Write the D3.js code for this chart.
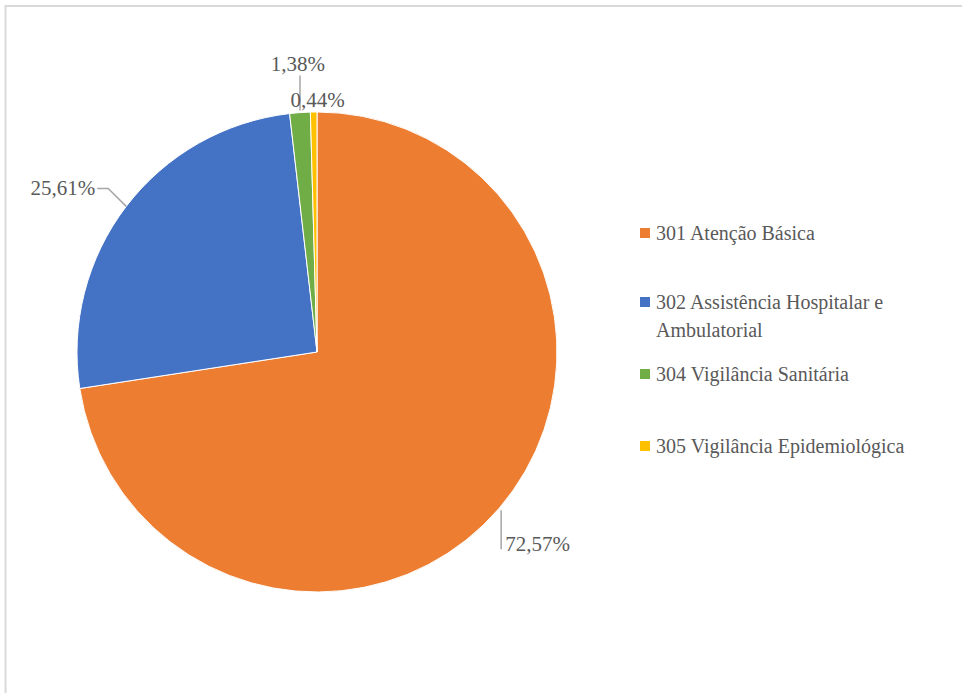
<!DOCTYPE html>
<html>
<head>
<meta charset="utf-8">
<script src="https://cdn.jsdelivr.net/npm/d3@7"></script>
<style>
  body { margin: 0; background: #fff; }
  text { font-family: "Liberation Serif", "DejaVu Serif", "Noto Serif", serif; fill: #595959; }
</style>
</head>
<body>
<svg></svg>
<script>
// Chart data
const categories = ['301 Atenção Básica', '302 Assistência Hospitalar e Ambulatorial', '304 Vigilância Sanitária', '305 Vigilância Epidemiológica'];
const values = [72.57, 25.61, 1.38, 0.44];
const valueLabels = ['72,57%', '25,61%', '1,38%', '0,44%'];

const colors = ['#ED7D31', '#4472C4', '#70AD47', '#FFC000'];

const width = 962;
const height = 693;
const cx = 317, cy = 352, radius = 240;

const svg = d3.select("svg")
    .attr("width", width)
    .attr("height", height);

// Frame (only top and left edges are visible in the crop)
svg.append("rect")
    .attr("x", 5.5)
    .attr("y", 6)
    .attr("width", width + 20)
    .attr("height", height + 20)
    .attr("fill", "none")
    .attr("stroke", "#d9d9d9")
    .attr("stroke-width", 2);

const pie = d3.pie().sort(null).value(d => d);
const arcs = pie(values);
const arc = d3.arc().innerRadius(0).outerRadius(radius);

const g = svg.append("g").attr("transform", `translate(${cx},${cy})`);

g.selectAll("path")
    .data(arcs)
    .join("path")
    .attr("d", arc)
    .attr("fill", (d, i) => colors[i])
    .attr("stroke", "#fff")
    .attr("stroke-width", 1);

// Data labels with leader lines
const edge = d => {
    const a = (d.startAngle + d.endAngle) / 2;
    return [radius * Math.sin(a), -radius * Math.cos(a)];
};
const lineColor = "#a6a6a6";
const fontSize = "21px";

// 72,57%
{
    const [x, y] = edge(arcs[0]);
    g.append("path").attr("d", `M${x + 2},${y + 2}V${y + 41}`)
        .attr("stroke", lineColor).attr("stroke-width", 1.5).attr("fill", "none");
    g.append("text").attr("x", x + 6).attr("y", y + 43)
        .style("font-size", fontSize).text(valueLabels[0]);
}
// 25,61%
{
    const [x, y] = edge(arcs[1]);
    g.append("path").attr("d", `M${x},${y}L${x - 18},${y - 18}H${x - 29}`)
        .attr("stroke", lineColor).attr("stroke-width", 1.5).attr("fill", "none");
    g.append("text").attr("x", x - 31).attr("y", y - 11)
        .attr("text-anchor", "end")
        .style("font-size", fontSize).text(valueLabels[1]);
}
// 1,38%
{
    const [x, y] = edge(arcs[2]);
    g.append("path").attr("d", `M${x},${y - 2}V${y - 37}`)
        .attr("stroke", lineColor).attr("stroke-width", 1.5).attr("fill", "none");
    g.append("text").attr("x", x - 2).attr("y", y - 42)
        .attr("text-anchor", "middle")
        .style("font-size", fontSize).text(valueLabels[2]);
}
// 0,44%
{
    const [x, y] = edge(arcs[3]);
    g.append("text").attr("x", x + 4).attr("y", y - 5)
        .attr("text-anchor", "middle")
        .style("font-size", fontSize).text(valueLabels[3]);
}

// Legend
const legendX = 640;
const legendRows = [[categories[0]], ['302 Assistência Hospitalar e', 'Ambulatorial'], [categories[2]], [categories[3]]];
const legendY = [233, 302, 374, 446];
const legend = svg.selectAll(".legend")
    .data(legendRows)
    .join("g")
    .attr("class", "legend")
    .attr("transform", (d, i) => `translate(${legendX},${legendY[i]})`);

legend.append("rect")
    .attr("x", 0)
    .attr("y", -5)
    .attr("width", 10)
    .attr("height", 10)
    .attr("fill", (d, i) => colors[i]);

legend.append("text")
    .attr("x", 16)
    .attr("y", 7)
    .style("font-size", "20px")
    .selectAll("tspan")
    .data(d => d)
    .join("tspan")
    .attr("x", 16)
    .attr("dy", (d, i) => i === 0 ? 0 : 28)
    .text(d => d);
</script>
</body>
</html>
